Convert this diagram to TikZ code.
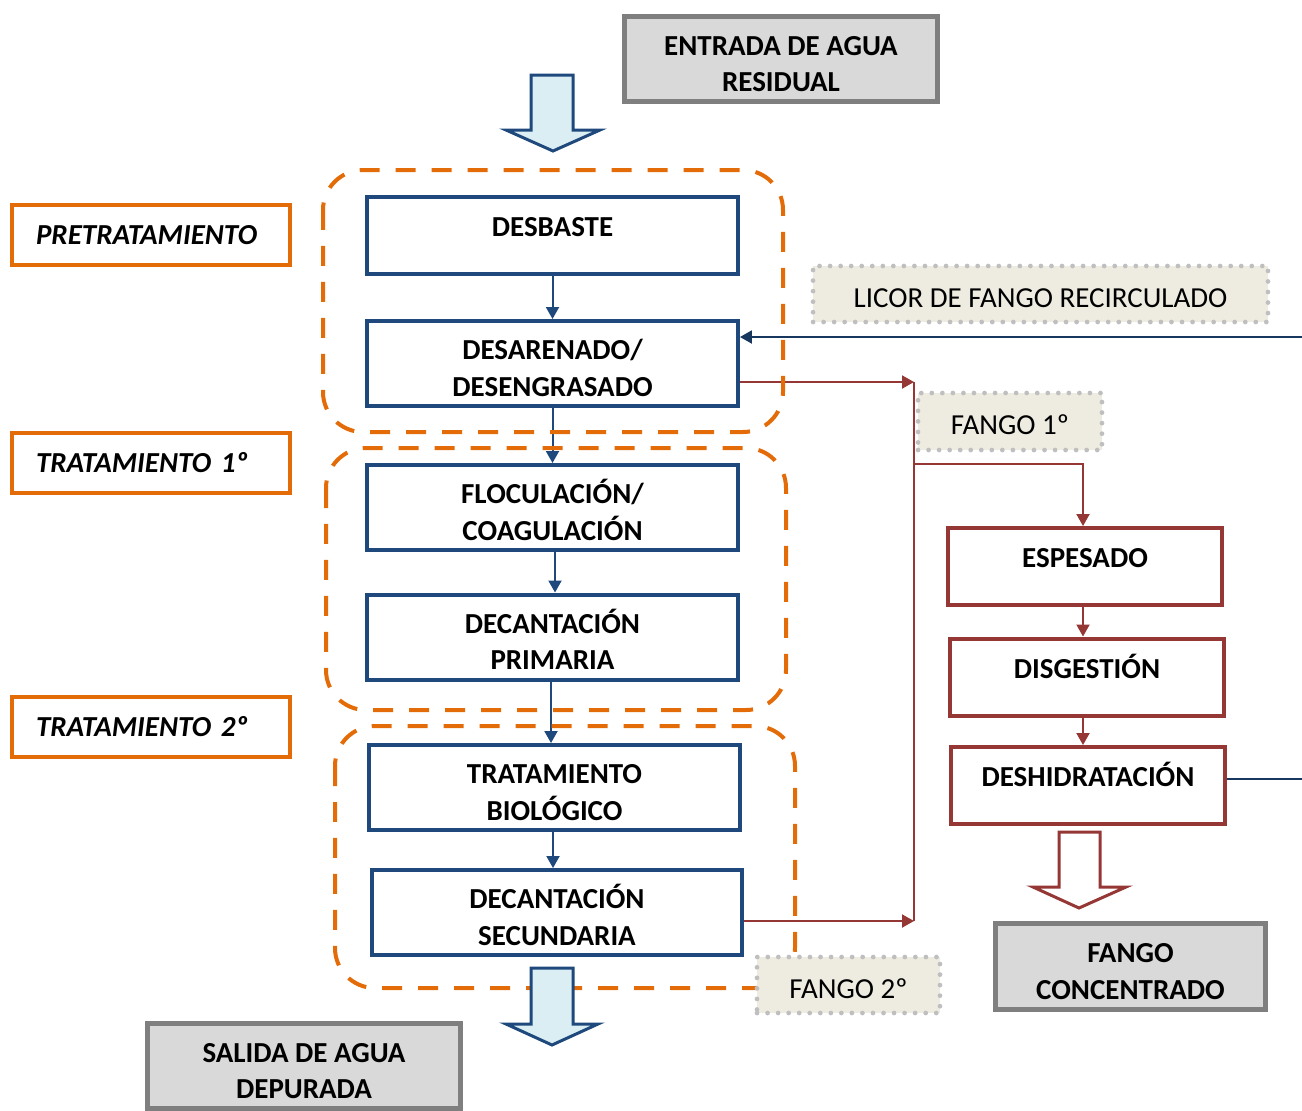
\documentclass[tikz,border=0pt]{standalone}
\usepackage{fontspec}
\setmainfont{Carlito}
\usetikzlibrary{arrows.meta}

\definecolor{azul}{HTML}{1F497D}
\definecolor{azuloscuro}{HTML}{17375E}
\definecolor{naranja}{HTML}{E36C09}
\definecolor{granate}{HTML}{953735}
\definecolor{grisfondo}{HTML}{D9D9D9}
\definecolor{grisborde}{HTML}{7F7F7F}
\definecolor{celeste}{HTML}{DAEEF3}
\definecolor{beige}{HTML}{EEECE1}
\definecolor{punteado}{HTML}{BFBFBF}

\tikzset{
  texto/.style={font=\bfseries\fontsize{16.5}{20.5}\selectfont, align=center},
  proceso/.style={texto, draw=azul, line width=0.08cm, fill=white, minimum width=7.42cm},
  fangobox/.style={texto, draw=granate, line width=0.08cm, fill=white, minimum width=5.48cm, minimum height=1.54cm},
  unalinea/.style={text height=0.4cm, text depth=0.35cm},
  doslineas/.style={inner ysep=0.1cm, text height=1.3cm, text depth=0cm},
  extremo/.style={texto, doslineas, draw=grisborde, line width=0.1cm, fill=grisfondo, minimum width=6.26cm, minimum height=1.7cm},
  etapa/.style={font=\bfseries\itshape\fontsize{16.5}{20.5}\selectfont, draw=naranja, line width=0.08cm, fill=white,
    minimum width=5.56cm, minimum height=1.2cm, inner xsep=0.48cm, text width=4.6cm, align=left},
  nota/.style={font=\fontsize{16.5}{20.5}\selectfont, fill=beige, draw=punteado, line width=2.7pt,
    dash pattern=on 0pt off 6pt, line cap=round, text height=0.6cm, text depth=0.066cm},
  grupo/.style={draw=naranja, line width=0.08cm, dash pattern=on 0.4cm off 0.32cm, rounded corners=0.8cm},
  flecha/.style={-{Triangle[length=0.24cm,width=0.26cm]}},
  agua/.style={flecha, draw=azul, line width=0.04cm},
  lodo/.style={draw=granate, line width=0.04cm},
  licor/.style={draw=azuloscuro, line width=0.04cm},
  bloque/.style={line width=0.06cm, line join=miter}
}

\begin{document}
\begin{tikzpicture}[x=0.02cm,y=-0.02cm]
  \useasboundingbox (0,0) rectangle (1302,1110);

  % entrada y salida
  \node[extremo] (entrada) at (781,59) {ENTRADA DE AGUA\\RESIDUAL};
  \node[extremo] (salida) at (304,1066) {SALIDA DE AGUA\\DEPURADA};
  \node[extremo, minimum width=5.4cm, minimum height=1.72cm] (concentrado) at (1130.5,966.5) {FANGO\\CONCENTRADO};

  % linea de agua
  \node[proceso, minimum height=1.54cm, unalinea] (desbaste) at (552.5,235.5) {DESBASTE};
  \node[proceso, minimum height=1.7cm, doslineas] (desarenado) at (552.5,363.5) {DESARENADO/\\DESENGRASADO};
  \node[proceso, minimum height=1.7cm, doslineas] (floculacion) at (552.5,507.5) {FLOCULACIÓN/\\COAGULACIÓN};
  \node[proceso, minimum height=1.7cm, doslineas] (primaria) at (552.5,637) {DECANTACIÓN\\PRIMARIA};
  \node[proceso, minimum height=1.7cm, doslineas] (biologico) at (554.5,787.5) {TRATAMIENTO\\BIOLÓGICO};
  \node[proceso, minimum height=1.7cm, doslineas] (secundaria) at (557,912.5) {DECANTACIÓN\\SECUNDARIA};

  % linea de fango
  \node[fangobox, unalinea] (espesado) at (1085,566.5) {ESPESADO};
  \node[fangobox, unalinea] (digestion) at (1087,677) {DISGESTIÓN};
  \node[fangobox, unalinea] (deshidratacion) at (1088,785.5) {DESHIDRATACIÓN};

  % etapas
  \node[etapa] (pre) at (151,235) {PRETRATAMIENTO};
  \node[etapa] (primero) at (151,462.5) {TRATAMIENTO 1º};
  \node[etapa] (segundo) at (151,727) {TRATAMIENTO 2º};

  \draw[agua] (desbaste) -- (desbaste |- desarenado.north);
  \draw[agua] (desarenado) -- (desarenado |- floculacion.north);
  \draw[agua] (floculacion.south -| 555,0) -- (primaria.north -| 555,0);
  \draw[agua] (primaria.south -| 551,0) -- (biologico.north -| 551,0);
  \draw[agua] (biologico.south -| 553,0) -- (secundaria.north -| 553,0);

  \draw[lodo, flecha] (espesado.south -| 1083,0) -- (digestion.north -| 1083,0);
  \draw[lodo, flecha] (digestion.south -| 1083,0) -- (deshidratacion.north -| 1083,0);

  % fangos hacia el espesado
  \coordinate (f1) at (914,382);
  \coordinate (f2) at (914,921);
  \coordinate (f3) at (914,464);
  \draw[lodo, flecha] (desarenado.east |- f1) -- (f1);
  \draw[lodo] (f1) -- (f2);
  \draw[lodo, flecha] (secundaria.east |- f2) -- (f2);
  \draw[lodo, flecha] (f3) -| (espesado.north -| 1083,0);

  % licor recirculado
  \coordinate (licorin) at (1302,337);
  \coordinate (licorout) at (1302,779);
  \draw[licor, flecha] (licorin) -- (desarenado.east |- licorin);
  \draw[licor] (deshidratacion.east |- licorout) -- (licorout);

  % grupos
  \draw[grupo] (323,170) rectangle (783,432);
  \draw[grupo] (326,448) rectangle (786,710);
  \draw[grupo] (335,726) rectangle (795,988);

  \node[nota, minimum width=9.1cm, minimum height=1.12cm] (licor) at (1040.5,294) {LICOR DE FANGO RECIRCULADO};
  \node[nota, minimum width=3.68cm, minimum height=1.14cm] (fango1) at (1010,421.5) {FANGO 1º};
  \node[nota, minimum width=3.66cm, minimum height=1.12cm] (fango2) at (848.5,985) {FANGO 2º};

  % flechas gruesas
  \filldraw[bloque, draw=azul, fill=celeste] (531,75) -- (573,75) -- (573,130) -- (600,130) -- (553,151)
    -- (506,130) -- (531,130) -- cycle;
  \filldraw[bloque, draw=azul, fill=celeste] (531,968) -- (573,968) -- (573,1024) -- (598,1024) -- (552,1045)
    -- (506,1024) -- (531,1024) -- cycle;
  \filldraw[bloque, draw=granate, fill=white] (1059,832) -- (1100,832) -- (1100,887) -- (1126,887) -- (1079,908)
    -- (1033,887) -- (1059,887) -- cycle;
\end{tikzpicture}
\end{document}
